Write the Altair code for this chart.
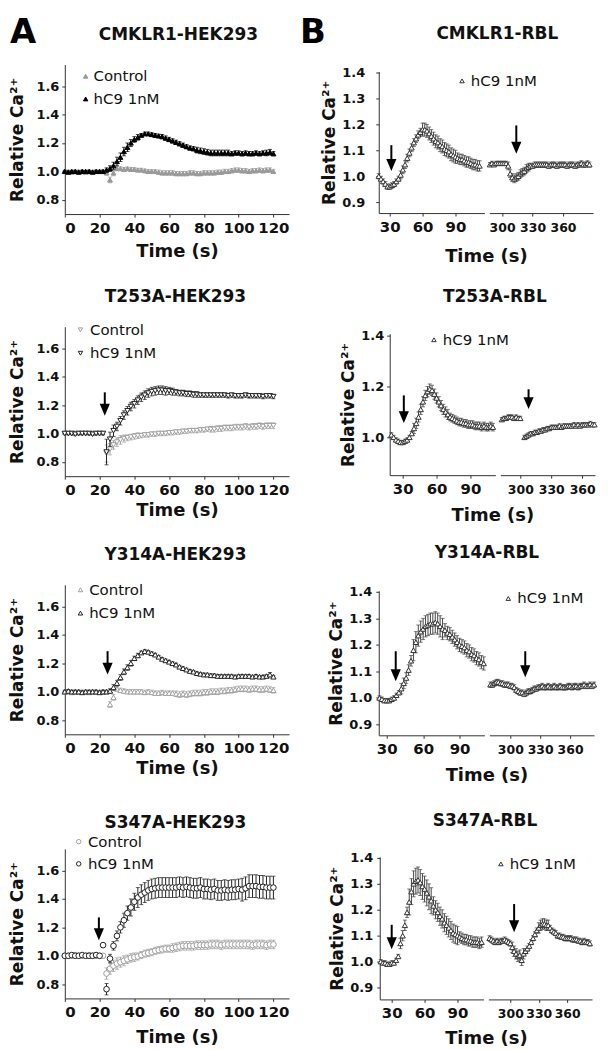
import altair as alt
import pandas as pd

FONT = "DejaVu Sans"
INK = "#111111"

# ---------------- data ----------------
HEK_T = list(range(0, 121, 2))

# CMKLR1-HEK293
HEK1_CTRL = [1.0,1.0,0.995,1.0,1.0,1.0,0.995,1.0,1.0,1.0,1.0,1.0,
             0.99,0.94,0.99,1.02,1.02,1.015,1.02,1.015,1.015,1.01,
             1.01,1.005,1.0,1.0,1.0,0.995,0.99,0.99,0.99,0.99,
             0.985,0.985,0.985,0.985,0.99,0.99,0.985,0.985,0.99,0.99,
             0.99,0.99,0.995,0.995,1.0,1.0,1.005,1.01,1.01,1.005,
             1.005,1.0,1.005,1.005,1.01,1.005,1.01,1.01,1.0]
HEK1_CTRL_ERR = [0.008,0.008,0.008,0.008,0.008,0.008,0.008,0.008,0.008,0.008,0.008,0.008,
                 0.015,0.02,0.02,0.015,0.012,0.012,0.012,0.012,0.012,0.012,
                 0.012,0.012,0.012,0.012,0.012,0.015,0.015,0.015,0.015,0.015,
                 0.015,0.015,0.015,0.015,0.015,0.015,0.015,0.015,0.015,0.015,
                 0.015,0.015,0.015,0.015,0.015,0.015,0.015,0.015,0.015,0.015,
                 0.015,0.015,0.015,0.015,0.015,0.015,0.015,0.015,0.015]
HEK1_HC9 = [1.0,0.995,1.0,1.0,0.995,1.0,1.0,1.0,0.995,1.0,1.0,1.0,
            1.01,1.02,1.04,1.07,1.10,1.14,1.17,1.20,1.225,1.24,
            1.255,1.265,1.265,1.26,1.255,1.25,1.245,1.235,1.225,1.215,
            1.205,1.195,1.185,1.175,1.165,1.16,1.15,1.145,1.14,1.135,
            1.13,1.13,1.13,1.13,1.13,1.13,1.125,1.13,1.13,1.125,
            1.13,1.125,1.125,1.13,1.125,1.13,1.13,1.135,1.125]
HEK1_HC9_ERR = [0.008,0.008,0.008,0.008,0.008,0.008,0.008,0.008,0.008,0.008,0.008,0.008,
                0.015,0.02,0.025,0.03,0.03,0.03,0.03,0.025,0.02,0.02,
                0.012,0.012,0.012,0.012,0.012,0.012,0.015,0.015,0.015,0.015,
                0.015,0.015,0.015,0.015,0.015,0.015,0.02,0.02,0.02,0.02,
                0.02,0.02,0.02,0.02,0.02,0.02,0.015,0.015,0.015,0.015,
                0.015,0.015,0.015,0.015,0.015,0.015,0.02,0.02,0.015]

# T253A-HEK293
HEK2_CTRL = [1.0,1.0,1.0,1.0,1.0,1.0,1.0,1.0,1.0,1.0,1.0,1.0,
             0.86,0.89,0.92,0.94,0.955,0.965,0.97,0.975,0.98,0.985,
             0.985,0.99,0.99,0.995,0.995,1.0,1.0,1.0,1.005,1.005,
             1.01,1.01,1.015,1.015,1.02,1.02,1.02,1.025,1.025,1.03,
             1.03,1.03,1.035,1.035,1.04,1.04,1.04,1.045,1.045,1.045,
             1.05,1.045,1.05,1.05,1.055,1.05,1.055,1.055,1.055]
HEK2_CTRL_ERR = [0.008,0.008,0.008,0.008,0.008,0.008,0.008,0.008,0.008,0.008,0.008,0.008,
                 0.06,0.04,0.03,0.03,0.03,0.025,0.02,0.02,0.02,0.02,
                 0.015,0.015,0.015,0.015,0.015,0.015,0.015,0.015,0.015,0.015,
                 0.015,0.015,0.015,0.015,0.015,0.015,0.015,0.015,0.015,0.015,
                 0.02,0.02,0.02,0.02,0.02,0.02,0.02,0.02,0.02,0.02,
                 0.02,0.02,0.02,0.02,0.02,0.02,0.02,0.02,0.02]
HEK2_HC9 = [1.0,1.0,1.0,0.995,1.0,1.0,1.0,1.0,0.995,1.0,1.0,1.0,
            0.87,0.96,1.02,1.05,1.09,1.13,1.16,1.19,1.21,1.235,
            1.255,1.27,1.285,1.295,1.30,1.305,1.305,1.30,1.30,1.295,
            1.29,1.285,1.285,1.28,1.28,1.275,1.275,1.27,1.27,1.27,
            1.27,1.27,1.27,1.27,1.27,1.265,1.27,1.265,1.265,1.265,
            1.27,1.265,1.265,1.265,1.265,1.26,1.265,1.265,1.26]
HEK2_HC9_ERR = [0.008,0.008,0.008,0.008,0.008,0.008,0.008,0.008,0.008,0.008,0.008,0.008,
                0.09,0.05,0.04,0.03,0.03,0.03,0.03,0.03,0.03,0.03,
                0.03,0.03,0.03,0.03,0.03,0.03,0.03,0.03,0.025,0.025,
                0.02,0.02,0.02,0.02,0.02,0.02,0.02,0.015,0.015,0.015,
                0.015,0.015,0.015,0.015,0.015,0.015,0.015,0.015,0.015,0.015,
                0.015,0.015,0.015,0.015,0.015,0.015,0.015,0.015,0.015]

# Y314A-HEK293
HEK3_CTRL = [1.0,1.0,0.995,1.0,1.0,1.0,1.0,0.995,1.0,1.0,1.0,1.0,
             1.0,0.91,0.96,1.02,1.01,1.005,1.0,1.0,1.0,1.0,
             1.0,0.995,1.0,0.995,0.99,0.99,0.995,0.99,0.99,0.99,
             0.985,0.98,0.985,0.98,0.985,0.99,0.99,0.99,0.995,0.995,
             1.0,1.0,1.0,1.005,1.005,1.01,1.01,1.015,1.02,1.02,
             1.02,1.015,1.02,1.02,1.015,1.015,1.02,1.015,1.01]
HEK3_CTRL_ERR = [0.01,0.01,0.01,0.01,0.01,0.01,0.01,0.01,0.01,0.01,0.01,0.01,
                 0.01,0.02,0.02,0.015,0.015,0.015,0.015,0.015,0.015,0.015,
                 0.015,0.015,0.015,0.015,0.015,0.015,0.015,0.015,0.015,0.015,
                 0.02,0.02,0.02,0.02,0.02,0.02,0.02,0.02,0.02,0.02,
                 0.02,0.02,0.02,0.02,0.02,0.02,0.02,0.02,0.02,0.02,
                 0.02,0.02,0.02,0.02,0.02,0.02,0.02,0.02,0.02]
HEK3_HC9 = [1.0,1.005,1.0,1.0,1.0,0.995,1.0,1.0,1.0,1.0,0.995,1.0,
            1.0,1.005,1.03,1.06,1.10,1.14,1.17,1.20,1.235,1.255,
            1.275,1.285,1.28,1.27,1.26,1.245,1.23,1.22,1.21,1.20,
            1.19,1.175,1.165,1.155,1.145,1.14,1.13,1.125,1.12,1.12,
            1.115,1.115,1.11,1.11,1.11,1.11,1.11,1.105,1.11,1.11,
            1.11,1.11,1.105,1.11,1.105,1.105,1.11,1.12,1.105]
HEK3_HC9_ERR = [0.01,0.01,0.01,0.01,0.01,0.01,0.01,0.01,0.01,0.01,0.01,0.01,
                0.01,0.015,0.02,0.02,0.02,0.02,0.02,0.02,0.015,0.015,
                0.01,0.01,0.01,0.01,0.01,0.01,0.01,0.01,0.01,0.01,
                0.01,0.01,0.01,0.01,0.01,0.01,0.01,0.01,0.01,0.01,
                0.01,0.01,0.01,0.01,0.01,0.01,0.01,0.01,0.01,0.01,
                0.01,0.01,0.01,0.01,0.01,0.01,0.01,0.015,0.01]

# S347A-HEK293
HEK4_CTRL = [1.0,1.0,1.0,1.005,1.0,1.0,1.0,1.005,1.0,1.0,1.0,
             1.0,0.875,0.91,0.93,0.945,0.955,0.965,0.975,0.985,0.99,
             0.995,1.005,1.015,1.02,1.025,1.035,1.04,1.045,1.05,1.05,
             1.055,1.06,1.065,1.07,1.07,1.07,1.07,1.075,1.075,1.075,
             1.075,1.08,1.08,1.08,1.075,1.08,1.08,1.08,1.08,1.08,
             1.08,1.08,1.08,1.075,1.08,1.08,1.08,1.075,1.08,1.08]
HEK4_CTRL_ERR = [0.008,0.008,0.008,0.008,0.008,0.008,0.008,0.008,0.008,0.008,0.008,
                 0.01,0.04,0.04,0.04,0.04,0.035,0.035,0.03,0.03,0.03,
                 0.025,0.025,0.025,0.025,0.025,0.025,0.025,0.025,0.025,0.025,
                 0.03,0.03,0.03,0.03,0.03,0.03,0.03,0.03,0.03,0.03,
                 0.03,0.03,0.03,0.03,0.03,0.03,0.03,0.03,0.03,0.03,
                 0.03,0.03,0.03,0.03,0.03,0.03,0.03,0.03,0.03,0.03]
HEK4_HC9 = [1.0,1.0,1.005,1.0,1.0,1.005,1.0,1.0,1.0,1.005,1.0,
            1.075,0.765,0.98,1.07,1.14,1.20,1.25,1.30,1.34,1.38,
            1.41,1.43,1.445,1.46,1.47,1.475,1.48,1.48,1.48,1.48,
            1.48,1.48,1.485,1.48,1.485,1.48,1.475,1.475,1.48,1.47,
            1.47,1.465,1.47,1.46,1.46,1.465,1.46,1.465,1.465,1.47,
            1.465,1.475,1.49,1.49,1.49,1.485,1.485,1.48,1.48,1.48]
HEK4_HC9_ERR = [0.008,0.008,0.008,0.008,0.008,0.008,0.008,0.008,0.008,0.008,0.008,
                0.015,0.04,0.03,0.03,0.035,0.04,0.05,0.05,0.06,0.06,
                0.07,0.07,0.07,0.07,0.07,0.07,0.07,0.07,0.07,0.07,
                0.07,0.07,0.07,0.07,0.07,0.07,0.07,0.07,0.07,0.07,
                0.07,0.07,0.07,0.07,0.07,0.07,0.07,0.07,0.07,0.07,
                0.08,0.08,0.08,0.08,0.08,0.08,0.08,0.08,0.08,0.08]

# CMKLR1-RBL
RBL1_LT = list(range(20, 113, 2))
RBL1_L = [1.0,0.99,0.98,0.97,0.96,0.96,0.965,0.97,0.98,0.99,
          1.005,1.025,1.045,1.07,1.09,1.11,1.13,1.145,1.16,1.17,
          1.18,1.18,1.175,1.165,1.155,1.145,1.135,1.13,1.12,1.115,
          1.105,1.10,1.095,1.085,1.08,1.075,1.07,1.065,1.065,1.06,
          1.055,1.055,1.05,1.045,1.045,1.04,1.04]
RBL1_LE = [0.01,0.01,0.01,0.01,0.01,0.01,0.01,0.01,0.01,0.01,
           0.015,0.015,0.015,0.015,0.015,0.015,0.015,0.015,0.015,0.015,
           0.025,0.025,0.025,0.025,0.025,0.025,0.025,0.025,0.025,0.025,
           0.025,0.025,0.025,0.025,0.025,0.025,0.02,0.02,0.02,0.02,
           0.02,0.02,0.02,0.02,0.02,0.02,0.02]
RBL1_RT = list(range(288, 387, 2))
RBL1_R = [1.045,1.05,1.045,1.05,1.05,1.05,1.05,1.05,1.05,1.04,
          1.01,0.995,0.99,0.995,1.0,1.01,1.015,1.02,1.03,1.035,
          1.04,1.04,1.045,1.045,1.045,1.045,1.045,1.045,1.045,1.04,
          1.045,1.045,1.045,1.04,1.045,1.045,1.045,1.045,1.04,1.045,
          1.045,1.045,1.04,1.045,1.045,1.05,1.045,1.045,1.05,1.045]
RBL1_RE = [0.008,0.008,0.008,0.008,0.008,0.008,0.008,0.008,0.008,0.015,
           0.015,0.015,0.015,0.015,0.015,0.015,0.015,0.015,0.015,0.015,
           0.01,0.01,0.01,0.01,0.01,0.01,0.01,0.01,0.01,0.01,
           0.01,0.01,0.01,0.01,0.01,0.01,0.01,0.01,0.01,0.01,
           0.01,0.01,0.01,0.01,0.01,0.01,0.01,0.01,0.01,0.01]

# T253A-RBL
RBL2_LT = list(range(20, 111, 2))
RBL2_L = [1.01,1.0,0.99,0.985,0.98,0.98,0.985,0.99,1.0,1.015,
          1.035,1.055,1.08,1.11,1.14,1.165,1.18,1.19,1.185,1.17,
          1.155,1.14,1.125,1.11,1.10,1.09,1.08,1.075,1.07,1.065,
          1.06,1.06,1.055,1.055,1.05,1.05,1.05,1.045,1.045,1.045,
          1.04,1.045,1.04,1.04,1.045,1.04]
RBL2_LE = [0.008,0.008,0.008,0.008,0.008,0.008,0.008,0.008,0.008,0.008,
           0.02,0.02,0.02,0.02,0.02,0.02,0.02,0.02,0.02,0.02,
           0.02,0.02,0.02,0.02,0.02,0.02,0.015,0.015,0.015,0.015,
           0.015,0.015,0.015,0.015,0.015,0.015,0.015,0.015,0.015,0.015,
           0.015,0.015,0.015,0.015,0.015,0.015]
RBL2_RT = list(range(282, 301, 2)) + list(range(304, 373, 2))
RBL2_R = [1.07,1.075,1.075,1.08,1.08,1.08,1.075,1.08,1.075,1.075,
          1.0,1.005,1.01,1.015,1.015,1.02,1.02,1.025,1.025,1.03,
          1.03,1.035,1.035,1.04,1.04,1.04,1.04,1.045,1.04,1.045,
          1.045,1.045,1.045,1.045,1.05,1.045,1.05,1.045,1.05,1.05,
          1.05,1.05,1.055,1.05,1.05]
RBL2_RE = [0.008,0.008,0.008,0.008,0.008,0.008,0.008,0.008,0.008,0.008,
           0.008,0.008,0.008,0.008,0.008,0.008,0.008,0.008,0.008,0.008,
           0.008,0.008,0.008,0.008,0.008,0.008,0.008,0.008,0.008,0.008,
           0.008,0.008,0.008,0.008,0.008,0.008,0.008,0.008,0.008,0.008,
           0.008,0.008,0.008,0.008,0.008]

# Y314A-RBL
RBL3_LT = list(range(24, 111, 2))
RBL3_L = [1.0,0.995,0.99,0.99,0.99,0.995,1.0,1.01,1.02,1.035,
          1.055,1.075,1.105,1.14,1.18,1.21,1.235,1.25,1.26,1.27,
          1.275,1.28,1.28,1.285,1.28,1.27,1.26,1.255,1.245,1.24,
          1.23,1.22,1.21,1.2,1.195,1.19,1.18,1.175,1.165,1.16,
          1.15,1.145,1.135,1.13]
RBL3_LE = [0.008,0.008,0.008,0.008,0.008,0.008,0.008,0.008,0.008,0.02,
           0.02,0.02,0.02,0.02,0.04,0.04,0.04,0.04,0.04,0.04,
           0.04,0.04,0.04,0.04,0.04,0.04,0.04,0.025,0.025,0.025,
           0.025,0.025,0.025,0.025,0.025,0.025,0.025,0.025,0.025,0.025,
           0.025,0.025,0.025,0.025]
RBL3_RT = list(range(280, 385, 2))
RBL3_R = [1.05,1.05,1.055,1.06,1.06,1.055,1.055,1.05,1.05,1.05,
          1.045,1.045,1.04,1.03,1.025,1.02,1.02,1.015,1.02,1.025,
          1.025,1.03,1.035,1.035,1.04,1.04,1.045,1.04,1.04,1.045,
          1.04,1.04,1.045,1.04,1.04,1.045,1.04,1.04,1.04,1.045,
          1.045,1.04,1.045,1.045,1.04,1.045,1.045,1.05,1.045,1.045,
          1.05,1.045,1.05]
RBL3_RE = [0.01,0.01,0.01,0.01,0.01,0.01,0.01,0.01,0.01,0.01,
           0.01,0.01,0.01,0.01,0.01,0.01,0.01,0.01,0.01,0.01,
           0.01,0.01,0.01,0.01,0.01,0.01,0.01,0.01,0.01,0.01,
           0.01,0.01,0.01,0.01,0.01,0.01,0.01,0.01,0.01,0.01,
           0.01,0.01,0.01,0.01,0.01,0.01,0.01,0.01,0.01,0.01,
           0.01,0.01,0.01]

# S347A-RBL
RBL4_LT = list(range(20, 113, 2))
RBL4_L = [1.0,0.995,0.995,0.99,0.99,0.995,0.995,1.005,1.02,1.07,
          1.10,1.14,1.19,1.23,1.27,1.30,1.31,1.315,1.305,1.29,
          1.28,1.265,1.25,1.235,1.215,1.20,1.19,1.175,1.165,1.15,
          1.14,1.13,1.12,1.11,1.105,1.10,1.095,1.09,1.085,1.085,
          1.08,1.08,1.075,1.075,1.075,1.07,1.075]
RBL4_LE = [0.008,0.008,0.008,0.008,0.008,0.008,0.008,0.008,0.008,0.02,
           0.02,0.02,0.02,0.05,0.05,0.05,0.05,0.05,0.05,0.05,
           0.05,0.05,0.05,0.05,0.035,0.035,0.035,0.035,0.035,0.035,
           0.035,0.035,0.035,0.035,0.035,0.035,0.02,0.02,0.02,0.02,
           0.02,0.02,0.02,0.02,0.02,0.02,0.02]
RBL4_RT = list(range(278, 385, 2))
RBL4_R = [1.09,1.085,1.08,1.075,1.08,1.075,1.08,1.08,1.085,1.08,
          1.075,1.07,1.055,1.04,1.03,1.02,1.025,1.005,1.03,1.04,
          1.05,1.06,1.075,1.09,1.105,1.12,1.13,1.14,1.145,1.145,
          1.14,1.14,1.13,1.12,1.115,1.11,1.10,1.10,1.095,1.095,
          1.09,1.09,1.09,1.09,1.085,1.085,1.085,1.08,1.08,1.075,
          1.08,1.075,1.075,1.07]
RBL4_RE = [0.01,0.01,0.01,0.01,0.01,0.01,0.01,0.01,0.01,0.01,
           0.01,0.01,0.02,0.02,0.02,0.02,0.02,0.02,0.02,0.01,
           0.01,0.01,0.01,0.01,0.01,0.01,0.02,0.02,0.02,0.02,
           0.02,0.02,0.01,0.01,0.01,0.01,0.01,0.01,0.01,0.01,
           0.01,0.01,0.01,0.01,0.01,0.01,0.01,0.01,0.01,0.01,
           0.01,0.01,0.01,0.01]

# arrows (x, top, tip) in data units
HEK2_ARROW = ([23.0], [1.29], [1.125])
HEK3_ARROW = ([24.6], [1.285], [1.12])
HEK4_ARROW = ([19.6], [1.27], [1.11])
RBL1_ARROWS = (([31.5], [1.12], [1.02]), ([314.0], [1.196], [1.087]))
RBL2_ARROWS = (([31.0], [1.165], [1.056]), ([308.0], [1.189], [1.111]))
RBL3_ARROWS = (([37.4], [1.176], [1.063]), ([315.0], [1.176], [1.078]))
RBL4_ARROWS = (([30.0], [1.142], [1.048]), ([304.0], [1.222], [1.113]))

LEGEND_LABELS = ["Control", "hC9 1nM"]
TITLES = ["CMKLR1-HEK293", "T253A-HEK293", "Y314A-HEK293", "S347A-HEK293",
          "CMKLR1-RBL", "T253A-RBL", "Y314A-RBL", "S347A-RBL"]

ARROW_HEAD = "M-0.85,-1L0.85,-1L0,1Z"


# ---------------- helpers ----------------
def frame(t, v, e):
    df = pd.DataFrame({"t": t, "v": v, "e": e})
    df["lo"] = df["v"] - df["e"]
    df["hi"] = df["v"] + df["e"]
    return df


def series_layers(df, xs, ys, xax, yax, shape, stroke, fill, size, errc):
    b = alt.Chart(df)
    X = alt.X("t:Q", scale=xs, axis=xax)
    rule = b.mark_rule(color=errc, strokeWidth=1).encode(
        x=X, y=alt.Y("lo:Q", scale=ys, axis=yax), y2="hi:Q")
    cap_hi = b.mark_tick(color=errc, orient="horizontal", size=4, thickness=1).encode(
        x=X, y=alt.Y("hi:Q", scale=ys, axis=yax))
    cap_lo = b.mark_tick(color=errc, orient="horizontal", size=4, thickness=1).encode(
        x=X, y=alt.Y("lo:Q", scale=ys, axis=yax))
    pts = b.mark_point(shape=shape, size=size, filled=True, fill=fill, stroke=stroke,
                       strokeWidth=1, opacity=1).encode(
        x=X, y=alt.Y("v:Q", scale=ys, axis=yax))
    return [rule, cap_hi, cap_lo, pts]


def arrow_layers(arrow, xs, ys, xax, yax):
    xv, top, tip = arrow
    df = pd.DataFrame({"x": xv, "top": top, "tip": tip})
    b = alt.Chart(df)
    X = alt.X("x:Q", scale=xs, axis=xax)
    line = b.mark_rule(color="black", strokeWidth=2, y2Offset=-7).encode(
        x=X, y=alt.Y("top:Q", scale=ys, axis=yax), y2="tip:Q")
    head = b.mark_point(shape=ARROW_HEAD, size=144, filled=True, color="black",
                        opacity=1, yOffset=-6).encode(
        x=X, y=alt.Y("tip:Q", scale=ys, axis=yax))
    return [line, head]


def legend_layers(items, xs, ys, xax, yax):
    # items: list of (sym_x, text_x, y, label, shape, stroke, fill)
    layers = []
    for sx, tx, yv, label, shape, stroke, fill in items:
        d = pd.DataFrame({"sx": [sx], "tx": [tx], "y": [yv], "label": [label]})
        b = alt.Chart(d)
        layers.append(b.mark_point(shape=shape, size=20, filled=True, fill=fill, stroke=stroke,
                                   strokeWidth=1, opacity=1).encode(
            x=alt.X("sx:Q", scale=xs, axis=xax), y=alt.Y("y:Q", scale=ys, axis=yax)))
        layers.append(b.mark_text(align="left", baseline="middle", font=FONT, fontSize=15,
                                  color=INK).encode(
            x=alt.X("tx:Q", scale=xs, axis=xax), y=alt.Y("y:Q", scale=ys, axis=yax),
            text="label:N"))
    return layers


def label_layer(text, px, py, size, align="center", baseline="middle"):
    return alt.Chart(pd.DataFrame({"s": [text]})).mark_text(
        align=align, baseline=baseline, font=FONT, fontSize=size, fontWeight="bold",
        color="black" if size > 20 else INK).encode(
        x=alt.value(px), y=alt.value(py), text="s:N")


def spacer(h):
    return alt.Chart(pd.DataFrame({"a": [0]})).mark_point(opacity=0).encode(
        x=alt.value(0), y=alt.value(0)).properties(width=10, height=h)


def hek_panel(title, tpos, ctrl, hc9, style, arrow, leg, xtpad, letters=None):
    shape, c_stroke, c_fill, h_stroke, h_fill, size = style
    xs = alt.Scale(domain=[0, 129], nice=False, zero=False)
    ys = alt.Scale(domain=[0.70, 1.752], nice=False, zero=False)
    xax = alt.Axis(values=[0, 20, 40, 60, 80, 100, 120], title="Time (s)", titlePadding=xtpad,
                   labelFontSize=15, titleFontSize=18, tickSize=3, labelPadding=3)
    yax = alt.Axis(values=[0.8, 1.0, 1.2, 1.4, 1.6], format=".1f", title="Relative Ca²⁺",
                   labelFontSize=13, titleFontSize=17, titlePadding=9, tickSize=3, labelPadding=3)
    layers = []
    layers += series_layers(ctrl, xs, ys, xax, yax, shape, c_stroke, c_fill, size, c_stroke)
    layers += series_layers(hc9, xs, ys, xax, yax, shape, h_stroke, h_fill, size, h_stroke)
    if arrow is not None:
        layers += arrow_layers(arrow, xs, ys, xax, yax)
    sx, tx, y1, y2 = leg
    layers += legend_layers([(sx, tx, y1, LEGEND_LABELS[0], shape, c_stroke, c_fill),
                             (sx, tx, y2, LEGEND_LABELS[1], shape, h_stroke, h_fill)],
                            xs, ys, xax, yax)
    layers.append(label_layer(title, tpos[0], tpos[1], 17))
    if letters:
        for txt, px, py in letters:
            layers.append(label_layer(txt, px, py, 34, align="left", baseline="middle"))
    return alt.layer(*layers).properties(width=225, height=150)


def rbl_panel(title, tpos, left, right, ldom, rdom, lw, rw, ydom, h, yvals, arrows, leg,
              ylabpad, xtpad, drop, letter=None):
    ys = alt.Scale(domain=ydom, nice=False, zero=False)
    yax = alt.Axis(values=yvals, format=".1f", title="Relative Ca²⁺", labelFontSize=13,
                   titleFontSize=17, labelPadding=ylabpad, titlePadding=3, tickSize=3)
    xs_l = alt.Scale(domain=ldom, nice=False, zero=False)
    xs_r = alt.Scale(domain=rdom, nice=False, zero=False)
    xax_l = alt.Axis(values=[30, 60, 90], title="Time (s)", titleX=(lw + 5 + rw) / 2,
                     titlePadding=xtpad, labelFontSize=15, titleFontSize=18, tickSize=3,
                     labelPadding=3)
    xax_r = alt.Axis(values=[300, 330, 360], title=None, labelFontSize=12.5, tickSize=3,
                     labelPadding=5)
    style = ("triangle-up", "#333333", "white", 28)
    sym_x, txt_x, leg_y, leg_side = leg
    l_layers = series_layers(left, xs_l, ys, xax_l, yax, style[0], style[1], style[2], style[3], "#444444")
    l_layers += arrow_layers(arrows[0], xs_l, ys, xax_l, yax)
    r_layers = series_layers(right, xs_r, ys, xax_r, None, style[0], style[1], style[2], style[3], "#444444")
    r_layers += arrow_layers(arrows[1], xs_r, ys, xax_r, None)
    item = [(sym_x, txt_x, leg_y, LEGEND_LABELS[1], style[0], style[1], style[2])]
    if leg_side == "left":
        l_layers += legend_layers(item, xs_l, ys, xax_l, yax)
    else:
        r_layers += legend_layers(item, xs_r, ys, xax_r, None)
    l_layers.append(label_layer(title, tpos[0], tpos[1], 17))
    if letter:
        txt, px, py = letter
        l_layers.append(label_layer(txt, px, py, 34, align="left", baseline="middle"))
    lchart = alt.layer(*l_layers).properties(width=lw, height=h)
    rchart = alt.layer(*r_layers).properties(width=rw, height=h)
    inner = alt.hconcat(lchart, rchart, spacing=5, bounds="flush")
    return alt.vconcat(spacer(drop), inner, spacing=0, bounds="flush")


# ---------------- panels ----------------
STYLE1 = ("triangle-up", "#9a9a9a", "#9a9a9a", "#000000", "#000000", 24)
STYLE2 = ("triangle-down", "#a0a0a0", "white", "#222222", "white", 28)
STYLE3 = ("triangle-up", "#a0a0a0", "white", "#222222", "white", 28)
STYLE4 = ("circle", "#a0a0a0", "white", "#222222", "white", 32)

hek1 = hek_panel(TITLES[0], (114, -30), frame(HEK_T, HEK1_CTRL, HEK1_CTRL_ERR),
                 frame(HEK_T, HEK1_HC9, HEK1_HC9_ERR), STYLE1, None,
                 (12, 16.5, 1.67, 1.51), 8, letters=[("A", -55, -32)])
hek2 = hek_panel(TITLES[1], (111, -30), frame(HEK_T, HEK2_CTRL, HEK2_CTRL_ERR),
                 frame(HEK_T, HEK2_HC9, HEK2_HC9_ERR), STYLE2, HEK2_ARROW,
                 (9, 14.5, 1.73, 1.565), 4)
hek3 = hek_panel(TITLES[2], (111, -30), frame(HEK_T, HEK3_CTRL, HEK3_CTRL_ERR),
                 frame(HEK_T, HEK3_HC9, HEK3_HC9_ERR), STYLE3, HEK3_ARROW,
                 (9, 14, 1.717, 1.553), 4)
hek4 = hek_panel(TITLES[3], (111, -26), frame(HEK_T, HEK4_CTRL, HEK4_CTRL_ERR),
                 frame(HEK_T, HEK4_HC9, HEK4_HC9_ERR), STYLE4, HEK4_ARROW,
                 (8, 13.3, 1.803, 1.647), 9)

YV6 = [0.9, 1.0, 1.1, 1.2, 1.3, 1.4]
rbl1 = rbl_panel(TITLES[4], (119, -38), frame(RBL1_LT, RBL1_L, RBL1_LE), frame(RBL1_RT, RBL1_R, RBL1_RE),
                 [20, 116.4], [287.5, 389.5], 106, 104, [0.858, 1.404], 142, YV6,
                 RBL1_ARROWS, (96, 104, 1.368, "left"), 11, 14, 7, letter=("B", -79, -39))
rbl2 = rbl_panel(TITLES[5], (105.5, -37), frame(RBL2_LT, RBL2_L, RBL2_LE), frame(RBL2_RT, RBL2_R, RBL2_RE),
                 [18.5, 112.1], [280.6, 372.5], 106, 95, [0.851, 1.408], 142, [1.0, 1.2, 1.4],
                 RBL2_ARROWS, (57.7, 65.5, 1.384, "left"), 3, 10, 7)
rbl3 = rbl_panel(TITLES[6], (108.5, -38), frame(RBL3_LT, RBL3_L, RBL3_LE), frame(RBL3_RT, RBL3_R, RBL3_RE),
                 [23.4, 110.5], [279, 384], 106, 105, [0.859, 1.404], 145, YV6,
                 RBL3_ARROWS, (298, 307, 1.375, "right"), 4, 10, 6)
rbl4 = rbl_panel(TITLES[7], (105.7, -36), frame(RBL4_LT, RBL4_L, RBL4_LE), frame(RBL4_RT, RBL4_R, RBL4_RE),
                 [19.1, 113.6], [276.8, 386.3], 104, 104, [0.854, 1.404], 143, YV6,
                 RBL4_ARROWS, (290, 299.5, 1.377, "right"), 4, 9, 8)

row1 = alt.hconcat(hek1, rbl1, spacing=11)
row2 = alt.hconcat(hek2, rbl2, spacing=50)
row3 = alt.hconcat(hek3, rbl3, spacing=38)
row4 = alt.hconcat(hek4, rbl4, spacing=39)

lower = alt.vconcat(row3, row4, spacing=28)
middle = alt.vconcat(row2, lower, spacing=20)
chart = alt.vconcat(row1, middle, spacing=22,
                    padding={"top": 6, "bottom": 0, "left": 0, "right": 0},
                    background="white").configure_axis(
    domainColor="#333333", tickColor="#333333", labelColor=INK, titleColor=INK,
    labelFont=FONT, titleFont=FONT, labelFontWeight="bold", titleFontWeight="bold", grid=False
).configure_view(stroke=None)

chart.save("out.html", embed_options={"renderer": "svg", "actions": False})
